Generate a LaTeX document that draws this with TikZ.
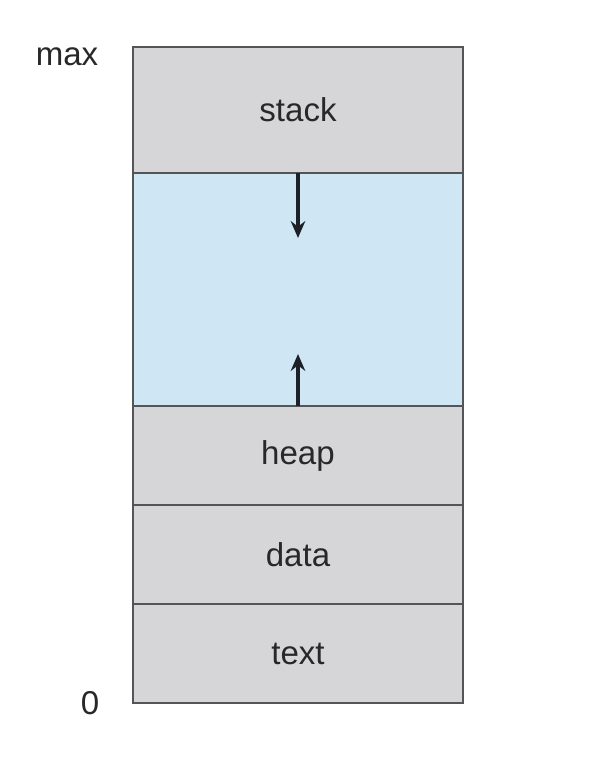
\documentclass[tikz,border=0pt]{standalone}
\usepackage{fontspec}
\setmainfont{Liberation Sans}
\usetikzlibrary{arrows.meta,positioning}

\definecolor{seggray}{RGB}{214,214,216}
\definecolor{segblue}{RGB}{207,231,245}
\definecolor{segline}{RGB}{85,85,88}
\definecolor{arrowcol}{RGB}{30,32,40}
\definecolor{txtcol}{RGB}{40,40,40}

\begin{document}
\begin{tikzpicture}[x=0.025cm, y=-0.025cm, line cap=butt, line join=miter,
    >={Stealth[length=4.2mm, width=3.6mm]},
    seg/.style={draw=segline, line width=1pt, fill=seggray, minimum width=8.25cm,
      inner sep=0pt, outer sep=0pt, text=txtcol, font=\fontsize{23.5}{27}\selectfont},
    lbl/.style={text=txtcol, font=\fontsize{23.5}{27}\selectfont, inner sep=0pt}]
  \useasboundingbox (0,0) rectangle (606,774);

  % Memory layout, top (max) to bottom (0)
  \node[seg, minimum height=3.15cm, anchor=north] (stack) at (298,47) {stack};
  \node[seg, minimum height=5.825cm, fill=segblue, below=0pt of stack] (free) {};
  \node[seg, minimum height=2.475cm, below=0pt of free] (heap) {heap};
  \node[seg, minimum height=2.475cm, below=0pt of heap] (data) {data};
  \node[seg, minimum height=2.475cm, below=0pt of data] (text) {text};

  % Growth arrows
  \coordinate (stackend) at (298,238);
  \coordinate (heapend) at (298,354);
  \draw[->, arrowcol, line width=2.4pt] (free.north) -- (stackend);
  \draw[->, arrowcol, line width=2.4pt] (free.south) -- (heapend);

  % Address labels
  \node[lbl] (maxlbl) at (67,57) {max};
  \node[lbl] (zerolbl) at (90,703) {0};
\end{tikzpicture}
\end{document}
